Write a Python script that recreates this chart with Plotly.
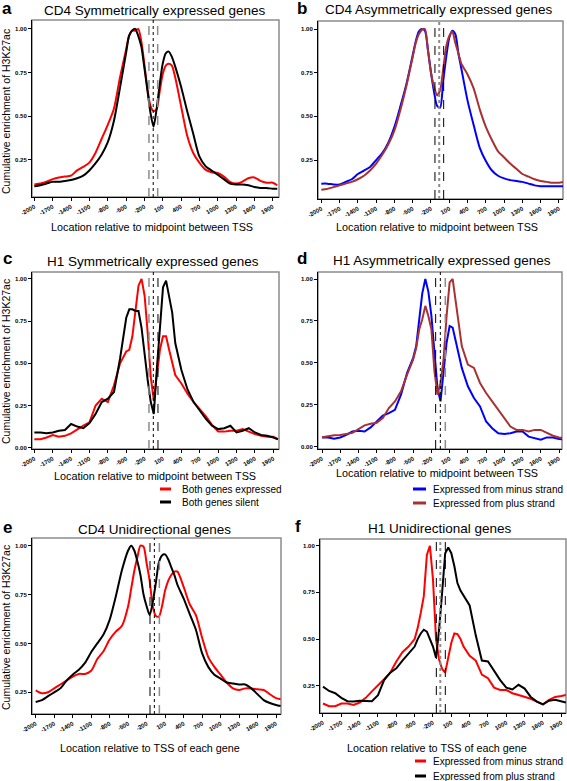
import plotly.graph_objects as go

W, H = 567, 781
FONT = "Liberation Sans, Arial, sans-serif"

# ---------------- data ----------------
X = [-2000, -1900, -1800, -1700, -1600, -1500, -1400, -1300, -1200, -1100, -1000, -900, -800, -700, -600, -500,
     -450, -400, -350, -300, -250, -200, -150, -100, -50, 0, 50, 100, 150, 200, 250,
     300, 400, 500, 600, 700, 800, 900, 1000, 1100, 1200, 1300, 1400, 1500, 1600, 1700, 1800, 1900,
     1975]

X_TICKS = [-2000, -1700, -1400, -1100, -800, -500, -200, 100, 400, 700, 1000, 1300, 1600, 1900]

A_RED = [0.11, 0.115, 0.125, 0.14, 0.15, 0.155, 0.16, 0.19, 0.21, 0.235, 0.29, 0.37, 0.45, 0.54, 0.72, 0.88,
         0.96, 0.99, 0.99, 1.0, 0.93, 0.80, 0.66, 0.56, 0.53, 0.54, 0.64, 0.74, 0.79, 0.80, 0.79,
         0.73, 0.56, 0.39, 0.29, 0.235, 0.195, 0.18, 0.175, 0.155, 0.125, 0.115, 0.125, 0.145, 0.15, 0.13, 0.12, 0.12,
         0.105]
A_BLACK = [0.10, 0.105, 0.115, 0.125, 0.125, 0.13, 0.135, 0.145, 0.16, 0.19, 0.23, 0.28, 0.35, 0.47, 0.66, 0.86,
           0.96, 0.99, 1.0, 0.96, 0.90, 0.78, 0.65, 0.52, 0.44, 0.54, 0.68, 0.80, 0.86, 0.87, 0.84,
           0.79, 0.67, 0.53, 0.40, 0.27, 0.215, 0.19, 0.165, 0.14, 0.115, 0.11, 0.11, 0.105, 0.095, 0.09, 0.09, 0.085,
           0.085]

B_BLUE = [0.115, 0.115, 0.11, 0.11, 0.125, 0.14, 0.17, 0.19, 0.21, 0.25, 0.29, 0.35, 0.44, 0.56, 0.69, 0.85,
          0.93, 0.985, 1.0, 0.99, 0.88, 0.75, 0.64, 0.56, 0.55, 0.70, 0.84, 0.95, 0.99, 0.97, 0.86,
          0.77, 0.59, 0.45, 0.32, 0.245, 0.19, 0.16, 0.145, 0.135, 0.13, 0.125, 0.115, 0.105, 0.10, 0.10, 0.10, 0.10,
          0.10]
B_BROWN = [0.08, 0.085, 0.095, 0.105, 0.115, 0.125, 0.14, 0.16, 0.19, 0.23, 0.28, 0.34, 0.42, 0.54, 0.68, 0.84,
           0.92, 0.97, 0.995, 1.0, 0.88, 0.75, 0.67, 0.62, 0.65, 0.77, 0.90, 0.96, 0.985, 0.92, 0.86,
           0.80, 0.74, 0.66, 0.54, 0.44, 0.365, 0.30, 0.265, 0.23, 0.20, 0.17, 0.155, 0.14, 0.13, 0.125, 0.12, 0.12,
           0.125]

C_RED = [0.05, 0.05, 0.06, 0.075, 0.065, 0.07, 0.085, 0.11, 0.13, 0.15, 0.25, 0.29, 0.27, 0.37, 0.50, 0.57,
         0.58, 0.66, 0.80, 0.96, 1.0, 0.90, 0.68, 0.42, 0.28, 0.42, 0.58, 0.66, 0.66, 0.58, 0.50,
         0.43, 0.38, 0.32, 0.27, 0.23, 0.185, 0.135, 0.095, 0.095, 0.10, 0.10, 0.11, 0.095, 0.08, 0.07, 0.065, 0.065,
         0.05]
C_BLACK = [0.09, 0.09, 0.085, 0.09, 0.10, 0.105, 0.14, 0.125, 0.115, 0.145, 0.20, 0.27, 0.29, 0.33, 0.53, 0.77,
           0.82, 0.82, 0.81, 0.81, 0.71, 0.55, 0.40, 0.27, 0.20, 0.47, 0.72, 0.95, 0.99, 0.90, 0.80,
           0.62, 0.46, 0.345, 0.27, 0.22, 0.17, 0.13, 0.11, 0.115, 0.13, 0.09, 0.10, 0.115, 0.09, 0.075, 0.07, 0.06,
           0.05]

D_BLUE = [0.055, 0.055, 0.048, 0.055, 0.07, 0.09, 0.095, 0.09, 0.115, 0.15, 0.185, 0.20, 0.22, 0.31, 0.44, 0.53,
          0.60, 0.76, 0.915, 1.0, 0.925, 0.78, 0.56, 0.35, 0.27, 0.43, 0.62, 0.72, 0.71, 0.63, 0.54,
          0.47, 0.36, 0.29, 0.24, 0.15, 0.11, 0.08, 0.076, 0.08, 0.09, 0.09, 0.06, 0.05, 0.042, 0.055, 0.055, 0.045,
          0.043]
D_BROWN = [0.056, 0.064, 0.068, 0.07, 0.077, 0.082, 0.105, 0.127, 0.137, 0.143, 0.17, 0.23, 0.27, 0.33, 0.43, 0.52,
           0.59, 0.70, 0.76, 0.84, 0.78, 0.70, 0.45, 0.31, 0.38, 0.52, 0.78, 0.98, 1.0, 0.87, 0.72,
           0.60, 0.49, 0.47, 0.38, 0.32, 0.27, 0.22, 0.17, 0.12, 0.10, 0.10, 0.09, 0.10, 0.10, 0.08, 0.065, 0.055,
           0.052]

E_RED = [0.26, 0.245, 0.25, 0.27, 0.29, 0.31, 0.33, 0.344, 0.344, 0.36, 0.42, 0.46, 0.52, 0.56, 0.59, 0.69,
         0.78, 0.87, 0.94, 1.0, 0.995, 0.91, 0.82, 0.69, 0.64, 0.637, 0.69, 0.77, 0.82, 0.85, 0.867,
         0.867, 0.79, 0.70, 0.645, 0.53, 0.43, 0.38, 0.34, 0.30, 0.27, 0.262, 0.27, 0.27, 0.265, 0.262, 0.24, 0.22,
         0.215]
E_BLACK = [0.20, 0.21, 0.23, 0.25, 0.27, 0.31, 0.34, 0.365, 0.40, 0.455, 0.50, 0.545, 0.62, 0.74, 0.875, 0.975,
           1.0, 0.975, 0.92, 0.85, 0.75, 0.69, 0.645, 0.71, 0.81, 0.915, 0.95, 0.955, 0.93, 0.89, 0.85,
           0.80, 0.73, 0.65, 0.57, 0.45, 0.38, 0.34, 0.32, 0.30, 0.295, 0.29, 0.29, 0.27, 0.24, 0.21, 0.195, 0.185,
           0.18]

F_RED = [0.155, 0.14, 0.14, 0.155, 0.155, 0.147, 0.16, 0.185, 0.22, 0.25, 0.285, 0.32, 0.38, 0.43, 0.46, 0.50,
         0.56, 0.64, 0.73, 0.95, 1.0, 0.82, 0.50, 0.39, 0.34, 0.32, 0.40, 0.48, 0.53, 0.527, 0.50,
         0.46, 0.41, 0.385, 0.31, 0.29, 0.24, 0.227, 0.227, 0.21, 0.20, 0.19, 0.18, 0.165, 0.15, 0.175, 0.19, 0.195,
         0.20]
F_BLACK = [0.245, 0.222, 0.21, 0.185, 0.167, 0.165, 0.17, 0.17, 0.167, 0.20, 0.28, 0.32, 0.343, 0.385, 0.42, 0.46,
           0.50, 0.53, 0.55, 0.54, 0.50, 0.46, 0.40, 0.55, 0.75, 0.96, 0.99, 0.96, 0.89, 0.80, 0.76,
           0.735, 0.68, 0.52, 0.385, 0.38, 0.33, 0.28, 0.24, 0.23, 0.255, 0.235, 0.19, 0.165, 0.15, 0.17, 0.175, 0.165,
           0.16]

TITLES = ["CD4 Symmetrically expressed genes", "CD4 Asymmetrically expressed genes",
          "H1 Symmetrically expressed genes", "H1 Asymmetrically expressed genes",
          "CD4 Unidirectional genes", "H1 Unidirectional genes"]
LETTERS = ["a", "b", "c", "d", "e", "f"]
Y_TITLE = "Cumulative enrichment of H3K27ac"
X_TITLE_BI = "Location relative to midpoint between TSS"
X_TITLE_UNI = "Location relative to TSS of each gene"
LEG_C = ["Both genes expressed", "Both genes silent"]
LEG_D = ["Expressed from minus strand", "Expressed from plus strand"]
LEG_F = ["Expressed from minus strand", "Expressed from plus strand"]

RED, BLACK, BLUE, BROWN = "#FF0000", "#000000", "#0000FF", "#A83232"
GRAY = "#8C8C8C"

# ---------------- layout helpers ----------------
def px(x):
    return x / W


def py(y):
    return 1 - y / H


panels = [
    dict(box=(32, 279, 20, 197), xr=[-2038, 2003], yr=[0.038, 1.051], yt=[0.25, 0.5, 0.75, 1.0],
         series=[(A_RED, RED), (A_BLACK, BLACK)], shape="spline",
         vl=[(-125, GRAY, "dash", 1.5), (-55, BLACK, "dot", 1), (18, GRAY, "dash", 1.5)],
         title=(155, 11), letter=(7, 8), xt=(152, 227, X_TITLE_BI), ytitle=(6, 112)),
    dict(box=(318, 563, 21, 199), xr=[-2054, 1966], yr=[0.027, 1.046], yt=[0.25, 0.5, 0.75, 1.0],
         series=[(B_BLUE, BLUE), (B_BROWN, BROWN)], shape="spline",
         vl=[(-135, BLACK, "dash", 1), (-65, GRAY, "dot", 2), (8, BLACK, "dash", 1)],
         title=(439, 10), letter=(302, 8), xt=(437, 227, X_TITLE_BI), ytitle=None),
    dict(box=(32, 279, 272, 449), xr=[-2038, 1993], yr=[-0.008, 1.041], yt=[0.0, 0.25, 0.5, 0.75, 1.0],
         series=[(C_RED, RED), (C_BLACK, BLACK)], shape="linear",
         vl=[(-129, GRAY, "dash", 1.5), (-58, BLACK, "dot", 1), (18, BLACK, "dash", 1)],
         title=(153, 261), letter=(7, 259), xt=(155, 476, X_TITLE_BI), ytitle=(6, 362)),
    dict(box=(318, 562, 272, 449), xr=[-2066, 1949], yr=[-0.014, 1.042], yt=[0.0, 0.25, 0.5, 0.75, 1.0],
         series=[(D_BLUE, BLUE), (D_BROWN, BROWN)], shape="linear",
         vl=[(-130, BLACK, "dash", 1), (-53, BLACK, "dot", 1), (29, GRAY, "dash", 1.5)],
         title=(442, 260), letter=(302, 258), xt=(437, 473, X_TITLE_BI), ytitle=None),
    dict(box=(32, 281, 538, 714), xr=[-2060, 1981], yr=[0.139, 1.039], yt=[0.25, 0.5, 0.75, 1.0],
         series=[(E_RED, RED), (E_BLACK, BLACK)], shape="spline",
         vl=[(-145, BLACK, "dash", 1), (-74, BLACK, "dot", 1), (7, GRAY, "dash", 1.5)],
         title=(154, 529), letter=(7, 527), xt=(150, 748, X_TITLE_UNI), ytitle=(6, 628)),
    dict(box=(320, 566, 539, 713), xr=[-2049, 1977], yr=[0.104, 1.036], yt=[0.25, 0.5, 0.75, 1.0],
         series=[(F_RED, RED), (F_BLACK, BLACK)], shape="linear",
         vl=[(-145, BLACK, "dash", 1), (-80, GRAY, "dot", 2), (2, BLACK, "dash", 1)],
         title=(440, 528), letter=(298, 526), xt=(437, 748, X_TITLE_UNI), ytitle=None),
]

fig = go.Figure()
shapes, annotations = [], []
layout = dict(template="none", width=W, height=H, margin=dict(l=0, r=0, t=0, b=0, pad=0),
              showlegend=False, plot_bgcolor="white", paper_bgcolor="white",
              font=dict(family=FONT, color="black"))

for i, p in enumerate(panels, start=1):
    sfx = "" if i == 1 else str(i)
    x0, x1, y0, y1 = p["box"]
    for vals, col in p["series"]:
        line = dict(color=col, width=2, shape=p["shape"])
        if p["shape"] == "spline":
            line["smoothing"] = 0.7
        fig.add_trace(go.Scatter(x=X, y=vals, mode="lines", xaxis="x" + sfx, yaxis="y" + sfx,
                                 line=line, hoverinfo="skip"))
    layout["xaxis" + sfx] = dict(domain=[px(x0), px(x1)], anchor="y" + sfx, range=p["xr"], automargin=False,
                                 tickvals=X_TICKS, ticktext=[str(t) for t in X_TICKS], tickangle=-30,
                                 tickfont=dict(size=6, family=FONT, weight="bold"),
                                 ticks="outside", ticklen=3, tickcolor="black", tickwidth=1,
                                 showline=True, linecolor="black", linewidth=1, mirror=False,
                                 showgrid=False, zeroline=False, fixedrange=True)
    layout["yaxis" + sfx] = dict(domain=[py(y1), py(y0)], anchor="x" + sfx, range=p["yr"], automargin=False,
                                 tickvals=p["yt"], tickformat=".2f",
                                 tickfont=dict(size=6, family=FONT, weight="bold"),
                                 ticks="outside", ticklen=3, tickcolor="black", tickwidth=1,
                                 showline=True, linecolor="black", linewidth=1, mirror=False,
                                 showgrid=False, zeroline=False, fixedrange=True)
    xd, yd = "x" + sfx + " domain", "y" + sfx + " domain"
    # gray frame (top / right)
    shapes.append(dict(type="rect", xref=xd, yref=yd, x0=0, x1=1, y0=0, y1=1,
                       line=dict(color=GRAY, width=1.5), layer="below"))
    for xv, col, dash, w in p["vl"]:
        shapes.append(dict(type="line", xref="x" + sfx, yref=yd, x0=xv, x1=xv, y0=0, y1=1,
                           line=dict(color=col, width=w, dash=dash)))
    tx, ty = p["title"]
    annotations.append(dict(text=TITLES[i - 1], x=px(tx), y=py(ty), xref="paper", yref="paper",
                            xanchor="center", yanchor="middle", showarrow=False,
                            font=dict(size=13.5, family=FONT)))
    lx, ly = p["letter"]
    annotations.append(dict(text="<b>" + LETTERS[i - 1] + "</b>", x=px(lx), y=py(ly), xref="paper",
                            yref="paper", xanchor="center", yanchor="middle", showarrow=False,
                            font=dict(size=17, family=FONT)))
    xtx, xty, xtt = p["xt"]
    annotations.append(dict(text=xtt, x=px(xtx), y=py(xty), xref="paper", yref="paper",
                            xanchor="center", yanchor="middle", showarrow=False,
                            font=dict(size=10.8, family=FONT)))
    if p["ytitle"]:
        ytx, yty = p["ytitle"]
        annotations.append(dict(text=Y_TITLE, x=px(ytx), y=py(yty), xref="paper", yref="paper",
                                xanchor="center", yanchor="middle", showarrow=False, textangle=-90,
                                font=dict(size=10.5, family=FONT)))

# legends drawn under panels c, d, f
legends = [
    ((160, 171, 180, 489, 502), LEG_C, (RED, BLACK)),
    ((413, 426, 431, 489, 503), LEG_D, (BLUE, BROWN)),
    ((415, 426, 431, 761, 776), LEG_F, (RED, BLACK)),
]
for (lx0, lx1, tx0, ya, yb), labels, cols in legends:
    for lab, col, yy in zip(labels, cols, (ya, yb)):
        shapes.append(dict(type="line", xref="paper", yref="paper", x0=px(lx0), x1=px(lx1),
                           y0=py(yy), y1=py(yy), line=dict(color=col, width=3)))
        annotations.append(dict(text=lab, x=px(tx0), y=py(yy), xref="paper", yref="paper",
                                xanchor="left", yanchor="middle", showarrow=False,
                                font=dict(size=10, family=FONT)))

layout["shapes"] = shapes
layout["annotations"] = annotations
fig.update_layout(**layout)
fig.write_html("out.html", config={"displayModeBar": False, "staticPlot": True},
               post_script="document.body.style.margin='0';document.body.style.overflow='hidden';")
